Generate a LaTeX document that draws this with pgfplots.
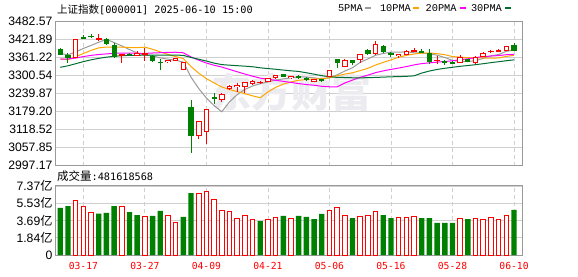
\documentclass[border=0pt]{standalone}
\usepackage{fontspec}
\setmainfont{Liberation Sans}
\newfontfamily\cjk{Noto Sans CJK SC}
\newfontfamily\dmono{DejaVu Sans Mono}
\newfontfamily\lmono{Liberation Mono}
\usepackage{pgfplots}
\usepackage{pgfplotstable}
\pgfplotsset{compat=1.18}
\definecolor{kred}{HTML}{FF0000}
\definecolor{kgreen}{HTML}{008000}
\definecolor{ma5c}{HTML}{9A9A9A}
\definecolor{ma10c}{HTML}{FFA500}
\definecolor{ma20c}{HTML}{FF00FF}
\definecolor{ma30c}{HTML}{006E33}
\definecolor{gridc}{HTML}{D0D0D0}
\definecolor{framec}{HTML}{999999}
\definecolor{wmc}{HTML}{EBEBF0}
\pgfdeclareplotmark{blank}{}

\pgfplotstableread{
i o h l c v up ma5 ma10 ma20 ma30
0 3389 3392 3370 3372 5.02 0 3374.4 3356.4 3355 3328
1 3368 3375 3342 3359 5.23 0 3370.0 3353.5 3356 3333
2 3362 3421 3360 3420 5.87 1 3379.4 3363.4 3359 3340
3 3428 3437 3424 3426 5.13 1 3391.4 3374.3 3364 3347
4 3433 3439 3428 3430 4.56 1 3401.4 3384.9 3368 3353
5 3423 3439 3415 3426 4.41 0 3412.2 3393.3 3371 3358
6 3422 3426 3404 3408 4.49 0 3422.0 3396.0 3373 3362
7 3400 3411 3359 3365 5.23 0 3411.0 3395.2 3375 3365
8 3368 3372 3343 3370 5.13 1 3399.8 3395.6 3376 3367
9 3371 3375 3365 3370 4.59 0 3387.6 3394.5 3376 3368
10 3369 3384 3367 3373 4.27 0 3376.0 3394.1 3375.3 3368
11 3372 3393 3349 3374 4.13 1 3369.2 3395.6 3374.6 3369
12 3365 3368 3347 3351 4.17 0 3366.4 3388.7 3376.0 3369
13 3346 3357 3318 3343 4.70 0 3359.6 3379.7 3377.0 3369
14 3346 3352 3341 3350 4.24 1 3355.4 3371.5 3378.2 3369
15 3350 3360 3348 3356 3.52 1 3351.8 3363.9 3378.6 3369
16 3322 3347 3320 3345 4.06 0 3345.4 3357.3 3376.7 3368
17 3193 3218 3041 3097 6.62 0 3294.6 3330.5 3362.9 3361
18 3098 3147 3087 3146 6.59 1 3256.6 3308.1 3351.9 3355
19 3112 3188 3069 3187 6.80 1 3224.4 3289.9 3342.2 3349
20 3226 3240 3205 3224 5.95 1 3199.2 3275.5 3334.8 3342.0
21 3220 3242 3212 3238 4.77 1 3178.4 3261.9 3328.8 3337.0
22 3256 3270 3252 3263 4.66 1 3211.6 3253.1 3320.9 3335.1
23 3264 3274 3246 3268 3.92 1 3236.0 3246.3 3313.0 3333.4
24 3264 3279 3242 3276 4.24 1 3253.8 3239.1 3305.3 3331.8
25 3272 3284 3270 3280 3.81 1 3265.0 3232.1 3298.0 3329.8
26 3276 3282 3272 3277 3.63 0 3272.8 3225.6 3291.5 3326.3
27 3280 3292 3279 3291 3.81 1 3278.6 3245.1 3287.8 3323.6
28 3292 3301 3288 3300 4.02 1 3285.0 3260.5 3284.3 3321.4
29 3305 3307 3294 3296 4.17 0 3289.0 3271.4 3280.7 3318.6
30 3292 3300 3290 3297 3.92 1 3292.4 3278.7 3277.1 3316.1
31 3297 3302 3290 3295 4.17 0 3296.0 3284.4 3273.2 3314.0
32 3290 3294 3282 3288 4.06 0 3295.2 3286.9 3270.0 3309.6
33 3281 3289 3278 3287 3.84 0 3292.6 3288.8 3267.6 3304.9
34 3286 3290 3279 3283 4.38 0 3289.2 3289.1 3264.1 3299.9
35 3298 3317 3296 3316 4.77 1 3293.0 3292.7 3262.4 3296.2
36 3353 3356 3325 3343 5.09 1 3302.6 3299.3 3262.5 3294.1
37 3332 3357 3330 3352 4.24 1 3315.4 3305.3 3275.2 3293.6
38 3350 3352 3334 3344 3.95 0 3326.4 3309.5 3285.0 3292.7
39 3354 3373 3343 3370 4.13 1 3344.6 3316.9 3294.2 3292.7
40 3386 3388 3370 3374 4.24 1 3356.2 3324.6 3301.7 3292.9
41 3375 3418 3370 3404 4.66 1 3368.4 3335.5 3310.0 3293.9
42 3397 3403 3375 3381 4.27 0 3374.2 3344.8 3315.9 3294.9
43 3374 3378 3362 3371 3.95 0 3379.2 3352.8 3320.8 3296.0
44 3366 3372 3360 3370 4.02 1 3378.8 3361.7 3325.4 3296.6
45 3372 3385 3368 3381 4.02 1 3380.0 3368.1 3330.4 3297.6
46 3382 3392 3379 3385 4.13 1 3376.8 3372.6 3336.0 3299.2
47 3382 3390 3375 3379 3.95 0 3376.8 3375.5 3340.4 3308.6
48 3373 3389 3339 3348 3.95 0 3373.0 3376.1 3342.8 3315.4
49 3350 3367 3339 3352 3.42 0 3368.8 3373.8 3345.4 3320.7
50 3348 3352 3336 3345 3.42 0 3360.8 3370.4 3347.5 3324.6
51 3344 3350 3339 3342 3.42 0 3351.2 3364.0 3349.8 3328.0
52 3343 3368 3342 3362 3.92 1 3347.6 3362.2 3353.5 3331.3
53 3354 3357 3345 3348 3.84 0 3347.4 3360.2 3356.5 3333.9
54 3343 3366 3340 3360 3.92 1 3350.4 3359.6 3360.7 3336.8
55 3364 3378 3362 3376 3.81 1 3357.8 3359.3 3363.7 3340.0
56 3380 3387 3376 3382 4.02 1 3366.6 3358.9 3365.8 3343.6
57 3382 3390 3379 3384 3.81 1 3371.0 3359.3 3367.4 3346.7
58 3386 3400 3384 3398 4.24 1 3381.6 3364.5 3370.3 3350.0
59 3401 3409 3382 3385 4.81 0 3386.2 3368.3 3371.1 3353.0
}\kdata

\pgfplotsset{
  candle/.style={forget plot, only marks, mark=blank,
    error bars/.cd, y dir=plus, y explicit, error mark=none,
    error bar style={line cap=butt, #1}},
}
\tikzset{lgtext/.style={anchor=base west, inner sep=0pt, text=black, font=\lmono\fontsize{10.3}{10.3}\selectfont}}

\begin{document}
\begin{tikzpicture}[x=1pt,y=1pt]
\path[use as bounding box] (0,0) rectangle (578,276);
% ---------- price panel ----------
\begin{axis}[
  at={(55.7pt,110.3pt)}, anchor=south west,
  width=467pt, height=144.4pt, scale only axis,
  xmin=-0.598, xmax=60.13, ymin=2997.17, ymax=3482.57,
  axis line style={draw=framec, line width=1pt},
  xtick={3,11,19,27,35,43,51,59}, xticklabels={},
  ytick={2997.17,3057.85,3118.52,3179.20,3239.87,3300.54,3361.22,3421.89,3482.57},
  yticklabels={2997.17,3057.85,3118.52,3179.20,3239.87,3300.54,3361.22,3421.89,3482.57},
  major tick length=0pt,
  xmajorgrids, ymajorgrids,
  y grid style={draw=gridc, line width=0.8pt},
  x grid style={draw=gridc, line width=0.8pt, dash pattern=on 4pt off 3pt},
  yticklabel style={font=\fontsize{12.2}{12.2}\selectfont, anchor=east, inner sep=0pt, xshift=-3pt},
  legend style={at={(0.6045,1.0596)}, anchor=south west, draw=none, fill=none,
    inner sep=0pt, outer sep=0pt, column sep=0pt, row sep=0pt,
    nodes={inner sep=0pt}},
]
\node[text=wmc, font=\cjk\bfseries\fontsize{40}{40}\selectfont, inner sep=0pt] at (rel axis cs:0.504,0.51) {东方财富};
\addlegendimage{legend image code/.code={%
  \node[lgtext] at (0pt,0pt) {5PMA};
  \draw[ma5c, line width=2pt] (27pt,3.4pt) -- (33pt,3.4pt);
  \node[lgtext] at (42pt,0pt) {10PMA};
  \draw[ma10c, line width=2pt] (75pt,3.4pt) -- (81pt,3.4pt);
  \node[lgtext] at (87.7pt,0pt) {20PMA};
  \draw[ma20c, line width=2pt] (122pt,3.4pt) -- (128pt,3.4pt);
  \node[lgtext] at (133pt,0pt) {30PMA};
  \draw[ma30c, line width=2pt] (167pt,3.4pt) -- (173pt,3.4pt);
}}
\addlegendentry{\relax}
\addplot[forget plot, ma5c, line width=1pt] table[x=i,y=ma5]{\kdata};
\addplot[forget plot, ma10c, line width=1pt] table[x=i,y=ma10]{\kdata};
\addplot[forget plot, ma20c, line width=1pt] table[x=i,y=ma20]{\kdata};
\addplot[forget plot, ma30c, line width=1pt] table[x=i,y=ma30]{\kdata};
% green (falling) candles: wick, then filled body
\addplot[candle={draw=kgreen, line width=1pt}] table[x=i,
  y expr={\thisrow{c}<\thisrow{o} ? \thisrow{l} : nan},
  y error plus expr={\thisrow{h}-\thisrow{l}}]{\kdata};
\addplot[candle={draw=kgreen, line width=5.2pt}] table[x=i,
  y expr={\thisrow{c}<\thisrow{o} ? \thisrow{c}-1.35 : nan},
  y error plus expr={\thisrow{o}-\thisrow{c}+2.7}]{\kdata};
% red (rising) candles: wick, outline, hollow inside
\addplot[candle={draw=kred, line width=1pt}] table[x=i,
  y expr={\thisrow{c}<\thisrow{o} ? nan : \thisrow{l}},
  y error plus expr={\thisrow{h}-\thisrow{l}}]{\kdata};
\addplot[candle={draw=kred, line width=5.6pt}] table[x=i,
  y expr={\thisrow{c}<\thisrow{o} ? nan : \thisrow{o}-1.68},
  y error plus expr={\thisrow{c}-\thisrow{o}+3.36}]{\kdata};
\addplot[candle={draw=white, line width=3.6pt}] table[x=i,
  y expr={\thisrow{c}<\thisrow{o} ? nan : \thisrow{o}+1.68},
  y error plus expr={max(\thisrow{c}-\thisrow{o}-3.36,0)}]{\kdata};
\end{axis}
% ---------- volume panel ----------
\begin{axis}[
  at={(55.7pt,21pt)}, anchor=south west,
  width=467pt, height=69pt, scale only axis,
  xmin=-0.598, xmax=60.13, ymin=0, ymax=7.37,
  axis line style={draw=framec, line width=1pt},
  xtick={3,11,19,27,35,43,51,59},
  xticklabels={03-17,03-27,04-09,04-21,05-06,05-16,05-28,06-10},
  ytick={0,1.84,3.69,5.53,7.37},
  yticklabels={0,{1.84{\cjk 亿}},{3.69{\cjk 亿}},{5.53{\cjk 亿}},{7.37{\cjk 亿}}},
  major tick length=0pt,
  xmajorgrids, ymajorgrids,
  y grid style={draw=gridc, line width=0.8pt},
  x grid style={draw=gridc, line width=0.8pt, dash pattern=on 4pt off 3pt},
  yticklabel style={font=\fontsize{12.2}{12.2}\selectfont, anchor=east, inner sep=0pt, xshift=-3pt},
  xticklabel style={font=\dmono\fontsize{9.7}{9.7}\selectfont, text=kred, anchor=center, inner sep=0pt, yshift=-11pt},
]
\addplot[ybar, bar width=4.6pt, bar shift=0pt, draw=kred, fill=white, line width=1pt]
  table[x=i, y expr={\thisrow{up}>0.5 ? \thisrow{v} : nan}]{\kdata};
\addplot[ybar, bar width=5.4pt, bar shift=0pt, draw=none, fill=kgreen]
  table[x=i, y expr={\thisrow{up}>0.5 ? nan : \thisrow{v}}]{\kdata};
\end{axis}
% ---------- titles ----------
\node[anchor=west, inner sep=0pt] at (57,266.7) {{\cjk\fontsize{10.5}{10.5}\selectfont 上证指数}{\dmono\fontsize{10.2}{10.2}\selectfont [000001] 2025-06-10 15:00}};
\node[anchor=west, inner sep=0pt] at (57,100) {{\cjk\fontsize{11.5}{11.5}\selectfont 成交量}{\dmono\fontsize{10.2}{10.2}\selectfont :481618568}};
\end{tikzpicture}
\end{document}
